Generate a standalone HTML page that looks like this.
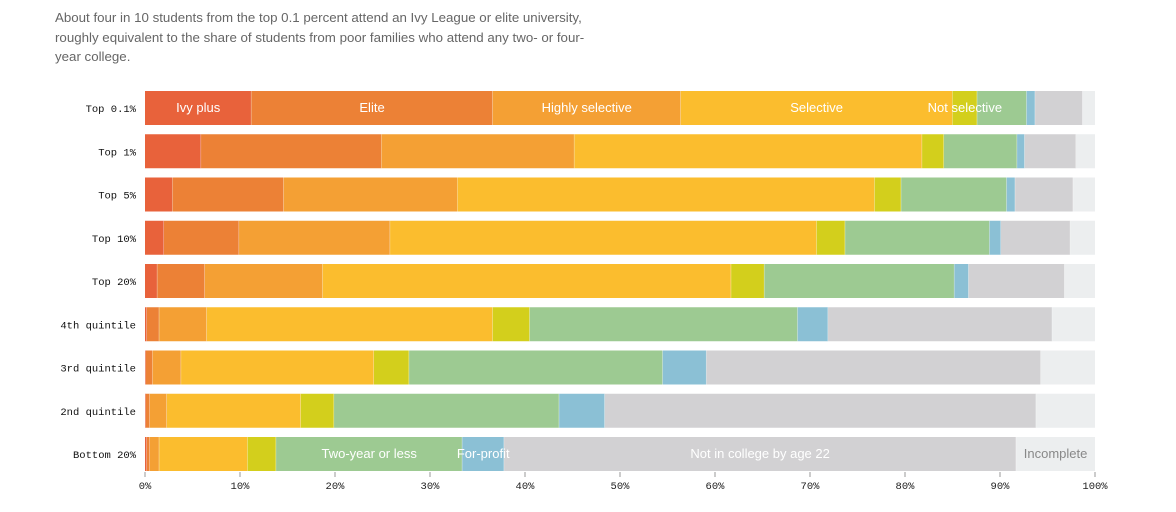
<!DOCTYPE html>
<html><head><meta charset="utf-8"><style>
body{margin:0;background:#fff;width:1176px;height:512px;overflow:hidden}
#intro{position:absolute;left:55px;top:8px;width:548px;font:13.3px/19.5px "Liberation Sans",sans-serif;color:#666}
</style></head><body>
<div id="intro">About four in 10 students from the top 0.1 percent attend an Ivy League or elite university, roughly equivalent to the share of students from poor families who attend any two- or four-year college.</div>
<svg id="chart" width="1176" height="512" style="position:absolute;left:0;top:0"></svg>
<script>
const groups=["Top 0.1%","Top 1%","Top 5%","Top 10%","Top 20%","4th quintile","3rd quintile","2nd quintile","Bottom 20%"];
const categories=["Ivy plus","Elite","Highly selective","Selective","Not selective","Two-year or less","For-profit","Not in college by age 22","Incomplete"];
const ivyPlus=[11.2,5.9,2.9,2.0,1.3,0.2,0.1,0.1,0.2];
const elite=[25.4,19.0,11.7,7.9,5.0,1.3,0.7,0.4,0.3];
const highlySelective=[19.8,20.3,18.3,15.9,12.4,5.0,3.0,1.8,1.0];
const selective=[28.6,36.6,43.9,44.9,43.0,30.1,20.3,14.1,9.3];
const notSelective=[2.6,2.3,2.8,3.0,3.5,3.9,3.7,3.5,3.0];
const twoYear=[5.2,7.7,11.1,15.2,20.0,28.2,26.7,23.7,19.6];
const forProfit=[0.9,0.8,0.9,1.2,1.5,3.2,4.6,4.8,4.4];
const notInCollege=[5.0,5.4,6.1,7.3,10.1,23.6,35.2,45.4,53.9];
const incomplete=[1.3,2.0,2.3,2.6,3.2,4.5,5.7,6.2,8.3];
const ticks=[0,10,20,30,40,50,60,70,80,90,100];
const series=[ivyPlus,elite,highlySelective,selective,notSelective,twoYear,forProfit,notInCollege,incomplete];
const colors=["#e8623b","#ec8136","#f4a034","#fbbd2e","#d3cf1c","#9dca92","#8bc0d5","#d2d1d3","#eceeef"];
const slugs=["ivy-plus","elite","highly-selective","selective","not-selective","two-year","for-profit","not-in-college","incomplete"];
const x0=145,x1=1095,top0=91,pitch=43.25,bh=34;
const X=v=>x0+(x1-x0)*v/100;
const Y=i=>top0+pitch*i;
const svg=document.getElementById('chart');
const NS="http://www.w3.org/2000/svg";
function mk(t,a){const e=document.createElementNS(NS,t);for(const k in a)e.setAttribute(k,a[k]);svg.appendChild(e);return e;}
groups.forEach((g,i)=>{
  const l=mk('text',{x:136,y:Y(i)+bh/2+4,'text-anchor':'end','font-family':'Liberation Mono, monospace','font-size':'10.5','fill':'#111'});
  l.textContent=g;
  
  
  let c=0;
  series.forEach((s,k)=>{
    const r=mk('rect',{x:X(c),y:Y(i),width:Math.max(0,X(c+s[i])-X(c)),height:bh,fill:colors[k]});
    
    
    c+=s[i];
    if(k<8){const ln=mk('line',{x1:X(c),x2:X(c),y1:Y(i),y2:Y(i)+bh,stroke:'rgba(255,255,255,0.6)','stroke-width':1});
      
      }
  });
});
function segLabel(row,k,txt,fill){
  let c=0;for(let j=0;j<k;j++)c+=series[j][row];
  const cx=(X(c)+X(c+series[k][row]))/2;
  const t=mk('text',{x:cx,y:Y(row)+bh/2+4,'text-anchor':'middle','font-family':'Liberation Sans, sans-serif','font-size':'13','fill':fill||'#fff'});
  t.textContent=txt;
  
  
}
segLabel(0,0,"Ivy plus");segLabel(0,1,"Elite");segLabel(0,2,"Highly selective");
segLabel(0,3,"Selective");segLabel(0,4,"Not selective");
segLabel(8,5,"Two-year or less");segLabel(8,6,"For-profit");
segLabel(8,7,"Not in college by age 22");segLabel(8,8,"Incomplete","#888");
ticks.forEach(t=>{
  const tk=mk('line',{x1:X(t),x2:X(t),y1:472,y2:477,stroke:'#999','stroke-width':1});
  
  
  const tx=mk('text',{x:X(t),y:489,'text-anchor':'middle','font-family':'Liberation Mono, monospace','font-size':'10.5','fill':'#222'});
  tx.textContent=t+'%';
  
  
});
</script>
</body></html>
